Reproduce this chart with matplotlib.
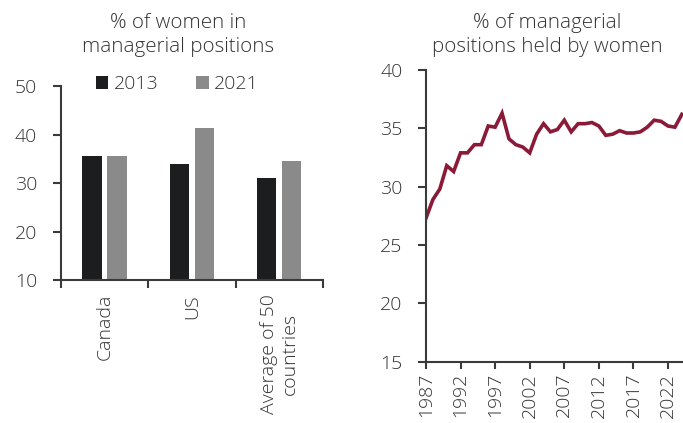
import matplotlib
matplotlib.use("Agg")
import matplotlib.pyplot as plt
from matplotlib.patches import Patch
import numpy as np

plt.rcParams['font.family'] = ['Open Sans', 'DejaVu Sans']
plt.rcParams['font.weight'] = 'light'

# ---- data ----
categories = ["Canada", "US", "Average of 50\ncountries"]
series_2013 = [35.6, 33.9, 31.0]
series_2021 = [35.5, 41.3, 34.5]

years = list(range(1987, 2025))
share = [27.3, 28.9, 29.8, 31.8, 31.3, 32.9, 32.9, 33.6, 33.6, 35.2,
         35.1, 36.3, 34.1, 33.6, 33.4, 32.9, 34.5, 35.4, 34.7, 34.9,
         35.7, 34.7, 35.4, 35.4, 35.5, 35.2, 34.4, 34.5, 34.8, 34.6,
         34.6, 34.7, 35.1, 35.7, 35.6, 35.2, 35.1, 36.2]
year_ticks = [1987, 1992, 1997, 2002, 2007, 2012, 2017, 2022]

TXT = "#333333"
SP = "#3a3a3a"
C13 = "#1c1d1f"
C21 = "#8a8a8b"
LINE = "#8b1a38"
FS = 14
TFS = 14.8

fig = plt.figure(figsize=(6.83, 4.23), dpi=100)

# ---- bar chart ----
ax1 = fig.add_axes([0.0889, 0.338, 0.384, 0.4586])
x = np.arange(len(categories))
w = 0.22
off = 0.143
ax1.bar(x - off, series_2013, width=w, color=C13, label="2013", zorder=2)
ax1.bar(x + off, series_2021, width=w, color=C21, label="2021", zorder=2)
ax1.set_ylim(10, 50)
ax1.set_xlim(-0.5, len(categories) - 0.5)
ax1.set_yticks([10, 20, 30, 40, 50])
ax1.set_xticks(np.arange(len(categories) + 1) - 0.5)
ax1.set_xticklabels([])
ax1.set_xticks(x, minor=True)
ax1.set_xticklabels(categories, minor=True, rotation=90, ha="center", va="top",
                    multialignment="center")
ax1.tick_params(axis="x", which="minor", length=0, pad=10, labelsize=FS, labelcolor=TXT)
ax1.tick_params(axis="x", which="major", length=6, width=1.5, color=SP, direction="out")
ax1.tick_params(axis="y", length=6, width=1.5, color=SP, pad=11, labelsize=FS, labelcolor=TXT)
for s in ["top", "right"]:
    ax1.spines[s].set_visible(False)
for s in ["left", "bottom"]:
    ax1.spines[s].set_color(SP)
    ax1.spines[s].set_linewidth(1.5)
handles = [Patch(facecolor=C13, label="2013"), Patch(facecolor=C21, label="2021")]
ax1.legend(handles=handles, loc="center", bbox_to_anchor=(0.445, 1.01), ncol=2,
           frameon=False, fontsize=FS, handlelength=0.65, handleheight=0.65,
           handletextpad=0.3, columnspacing=1.9, labelcolor=TXT)
fig.text(0.261, 0.917, "% of women in\nmanagerial positions", ha="center", va="center",
         fontsize=TFS, color=TXT, linespacing=1.22)

# ---- line chart ----
ax2 = fig.add_axes([0.6237, 0.1449, 0.3763, 0.6896])
ax2.plot(years, share, color=LINE, linewidth=2.6, solid_joinstyle="miter", clip_on=True)
ax2.set_ylim(15, 40)
ax2.set_xlim(1987, 2024.17)
ax2.set_yticks([15, 20, 25, 30, 35, 40])
ax2.set_xticks(year_ticks)
ax2.set_xticklabels([str(y) for y in year_ticks], rotation=90)
ax2.tick_params(axis="x", length=5, width=1.5, color=SP, pad=3, labelsize=FS, labelcolor=TXT)
ax2.tick_params(axis="y", length=6, width=1.5, color=SP, pad=11, labelsize=FS, labelcolor=TXT)
for s in ["top", "right"]:
    ax2.spines[s].set_visible(False)
for s in ["left", "bottom"]:
    ax2.spines[s].set_color(SP)
    ax2.spines[s].set_linewidth(1.5)
fig.text(0.801, 0.917, "% of managerial\npositions held by women", ha="center", va="center",
         fontsize=TFS, color=TXT, linespacing=1.22)

fig.savefig("out.png", dpi=100)
